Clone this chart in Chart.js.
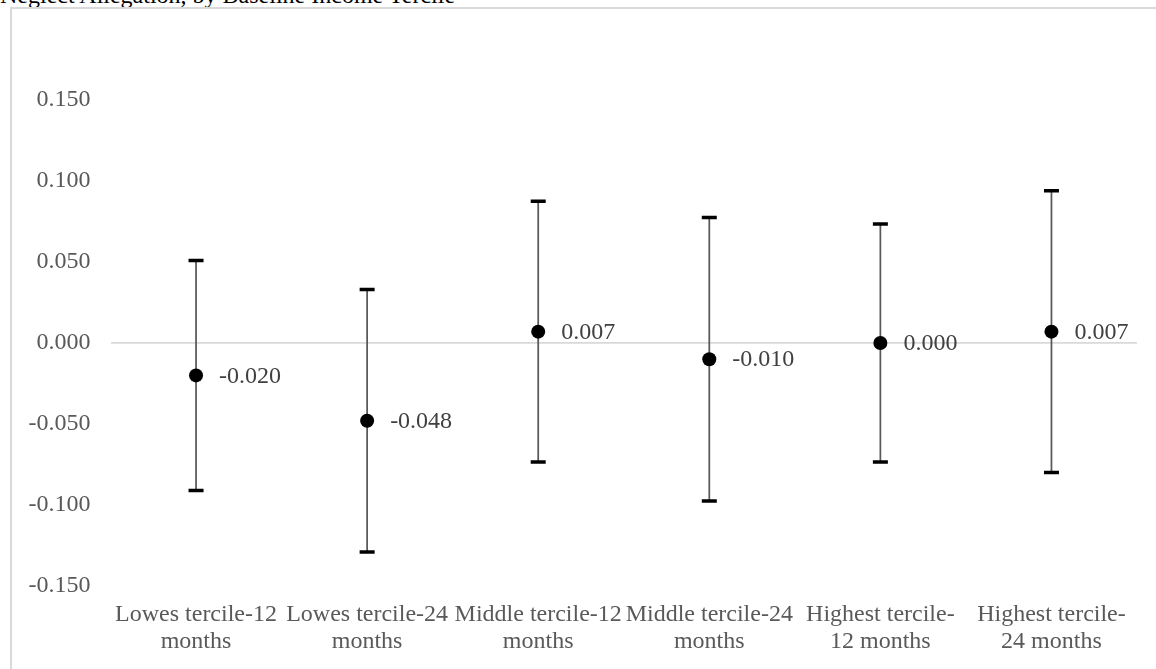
<!DOCTYPE html>
<html>
<head>
<meta charset="utf-8">
<script src="https://cdn.jsdelivr.net/npm/chart.js@4.4.1/dist/chart.umd.min.js"></script>
<style>
  html, body { margin: 0; padding: 0; background: #fff; overflow: hidden; }
  body { width: 1156px; height: 669px; position: relative; }
  #title {
    position: absolute; left: 0; top: -17px;
    font: 24px/24px "Liberation Serif", "Times New Roman", serif;
    color: #000; white-space: nowrap;
  }
  #frame {
    position: absolute; left: 10px; top: 7px; width: 1200px; height: 720px;
    border: 2px solid #d9d9d9; box-sizing: border-box;
  }
  #wrap { position: absolute; left: 0; top: 0; width: 1156px; height: 669px; }
</style>
</head>
<body>
<div id="title">Neglect Allegation, by Baseline Income Tercile</div>
<div id="frame"></div>
<div id="wrap"><canvas id="chart"></canvas></div>
<script>
// Categories (two-line axis labels)
const categories = [
  ['Lowes tercile-12', 'months'],
  ['Lowes tercile-24', 'months'],
  ['Middle tercile-12', 'months'],
  ['Middle tercile-24', 'months'],
  ['Highest tercile-', '12 months'],
  ['Highest tercile-', '24 months']
];
// Point estimates
const estimates = [-0.020, -0.048, 0.007, -0.010, 0.000, 0.007];
// Confidence interval bounds
const lowerBounds = [-0.091, -0.129, -0.0735, -0.0975, -0.0735, -0.080];
const upperBounds = [0.051, 0.033, 0.0875, 0.0775, 0.0735, 0.094];
// Y-axis range and tick step
const yMin = -0.15, yMax = 0.15, yStep = 0.05;

const FONT = '"Liberation Serif", "Times New Roman", serif';

// Vertical whiskers with flat caps, drawn beneath the markers
const errorBars = {
  id: 'errorBars',
  beforeDatasetsDraw(chart) {
    const { ctx, scales: { x, y } } = chart;
    ctx.save();
    estimates.forEach((v, i) => {
      const px = x.getPixelForValue(i);
      const yTop = y.getPixelForValue(upperBounds[i]);
      const yBot = y.getPixelForValue(lowerBounds[i]);
      ctx.strokeStyle = '#595959';
      ctx.lineWidth = 1.75;
      ctx.beginPath();
      ctx.moveTo(px, yTop);
      ctx.lineTo(px, yBot);
      ctx.stroke();
      ctx.strokeStyle = '#000';
      ctx.lineWidth = 3.5;
      ctx.lineCap = 'butt';
      ctx.beginPath();
      ctx.moveTo(px - 7.5, yTop); ctx.lineTo(px + 7.5, yTop);
      ctx.moveTo(px - 7.5, yBot); ctx.lineTo(px + 7.5, yBot);
      ctx.stroke();
    });
    ctx.restore();
  }
};

// Value labels to the right of each marker
const valueLabels = {
  id: 'valueLabels',
  afterDatasetsDraw(chart) {
    const { ctx } = chart;
    const meta = chart.getDatasetMeta(0);
    ctx.save();
    ctx.font = '24px ' + FONT;
    ctx.fillStyle = '#404040';
    ctx.textAlign = 'left';
    ctx.textBaseline = 'middle';
    meta.data.forEach((pt, i) => {
      ctx.fillText(estimates[i].toFixed(3), pt.x + 23, pt.y + 1);
    });
    ctx.restore();
  }
};

new Chart(document.getElementById('chart'), {
  type: 'line',
  data: {
    labels: categories,
    datasets: [{
      data: estimates,
      showLine: false,
      pointRadius: 7,
      pointHoverRadius: 7,
      pointBackgroundColor: '#000',
      pointBorderColor: '#000',
      pointBorderWidth: 0
    }]
  },
  options: {
    responsive: true,
    maintainAspectRatio: false,
    animation: false,
    events: [],
    layout: { padding: { top: 100, right: 19, left: 0, bottom: 0 } },
    plugins: { legend: { display: false }, tooltip: { enabled: false } },
    scales: {
      x: {
        offset: true,
        grid: { display: false, drawTicks: false, offset: true },
        border: { display: false },
        ticks: {
          autoSkip: false, maxRotation: 0, minRotation: 0, padding: 15,
          color: '#595959',
          font: { family: FONT, size: 24, lineHeight: 1.125 }
        },
        afterFit(s) { s.height = 83; }
      },
      y: {
        min: yMin, max: yMax,
        grid: {
          drawTicks: false,
          lineWidth: 1.75,
          color: c => Math.abs(c.tick.value) < 1e-9 ? '#d9d9d9' : 'rgba(0,0,0,0)'
        },
        border: { display: false },
        ticks: {
          stepSize: yStep, padding: 20, color: '#595959',
          font: { family: FONT, size: 24 },
          callback: v => Number(v).toFixed(3)
        },
        afterFit(s) { s.width = 110.5; }
      }
    }
  },
  plugins: [errorBars, valueLabels]
});
</script>
</body>
</html>
